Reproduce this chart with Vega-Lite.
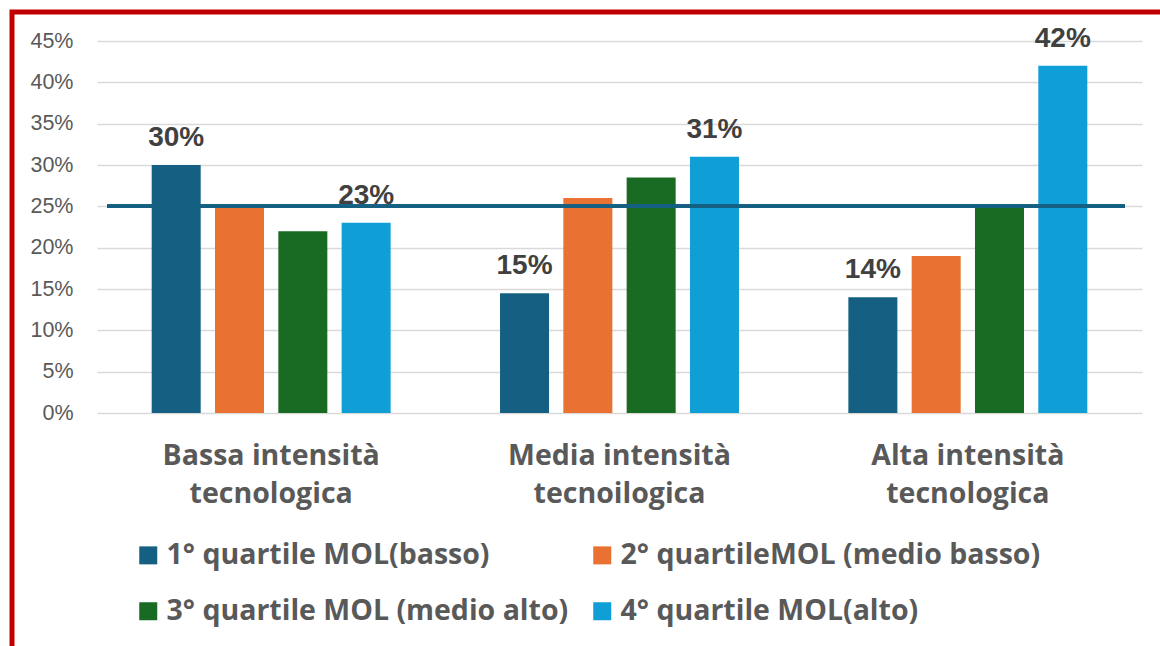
{
  "$schema": "https://vega.github.io/schema/vega-lite/v6.json",
  "width": 1148,
  "height": 634,
  "autosize": {"type": "none"},
  "padding": {"left": 12, "top": 12, "right": 0, "bottom": 0},
  "background": "white",
  "config": {
    "view": {"stroke": "#C00000", "strokeWidth": 5, "strokeDash": [1148, 1782, 634]}
  },
  "data": {
    "values": [
      {"categoria": "Bassa intensità tecnologica", "quartile": "1° quartile MOL(basso)", "valore": 0.30, "etichetta": "30%"},
      {"categoria": "Bassa intensità tecnologica", "quartile": "2° quartileMOL (medio basso)", "valore": 0.25, "etichetta": ""},
      {"categoria": "Bassa intensità tecnologica", "quartile": "3° quartile MOL (medio alto)", "valore": 0.22, "etichetta": ""},
      {"categoria": "Bassa intensità tecnologica", "quartile": "4° quartile MOL(alto)", "valore": 0.23, "etichetta": "23%"},
      {"categoria": "Media intensità tecnoilogica", "quartile": "1° quartile MOL(basso)", "valore": 0.145, "etichetta": "15%"},
      {"categoria": "Media intensità tecnoilogica", "quartile": "2° quartileMOL (medio basso)", "valore": 0.26, "etichetta": ""},
      {"categoria": "Media intensità tecnoilogica", "quartile": "3° quartile MOL (medio alto)", "valore": 0.285, "etichetta": ""},
      {"categoria": "Media intensità tecnoilogica", "quartile": "4° quartile MOL(alto)", "valore": 0.31, "etichetta": "31%"},
      {"categoria": "Alta intensità tecnologica", "quartile": "1° quartile MOL(basso)", "valore": 0.14, "etichetta": "14%"},
      {"categoria": "Alta intensità tecnologica", "quartile": "2° quartileMOL (medio basso)", "valore": 0.19, "etichetta": ""},
      {"categoria": "Alta intensità tecnologica", "quartile": "3° quartile MOL (medio alto)", "valore": 0.25, "etichetta": ""},
      {"categoria": "Alta intensità tecnologica", "quartile": "4° quartile MOL(alto)", "valore": 0.42, "etichetta": "42%"}
    ]
  },
  "layer": [
    {
      "encoding": {
        "x": {
          "field": "categoria",
          "type": "nominal",
          "scale": {
            "domain": ["Bassa intensità tecnologica", "Media intensità tecnoilogica", "Alta intensità tecnologica"],
            "range": [85, 1130],
            "paddingInner": 0.314,
            "paddingOuter": 0.157
          },
          "axis": {
            "title": null,
            "orient": "bottom",
            "offset": -233,
            "labelAngle": 0,
            "domain": false,
            "ticks": false,
            "tickSize": 0,
            "labelPadding": 28,
            "labelFont": "Open Sans",
            "labelFontSize": 28.5,
            "labelFontWeight": "bold",
            "labelColor": "#595959",
            "labelLineHeight": 38,
            "labelLimit": 0,
            "labelExpr": "[split(datum.label, ' ')[0] + ' ' + split(datum.label, ' ')[1], split(datum.label, ' ')[2]]"
          }
        },
        "xOffset": {
          "field": "quartile",
          "type": "nominal",
          "scale": {
            "domain": ["1° quartile MOL(basso)", "2° quartileMOL (medio basso)", "3° quartile MOL (medio alto)", "4° quartile MOL(alto)"],
            "paddingInner": 0.226,
            "paddingOuter": 0
          }
        },
        "y": {
          "field": "valore",
          "type": "quantitative",
          "scale": {"domain": [0, 0.45], "range": [401, 29], "nice": false, "zero": true},
          "axis": {
            "title": null,
            "orient": "left",
            "offset": -85,
            "format": ".0%",
            "values": [0, 0.05, 0.1, 0.15, 0.2, 0.25, 0.3, 0.35, 0.4, 0.45],
            "domain": false,
            "ticks": false,
            "tickSize": 0,
            "labelPadding": 24,
            "labelFont": "Liberation Sans",
            "labelFontSize": 21.5,
            "labelColor": "#595959",
            "grid": true,
            "gridColor": "#D9D9D9",
            "gridWidth": 1.5
          }
        }
      },
      "layer": [
        {
          "mark": {"type": "bar"},
          "encoding": {
            "color": {
              "field": "quartile",
              "type": "nominal",
              "scale": {
                "domain": ["1° quartile MOL(basso)", "2° quartileMOL (medio basso)", "3° quartile MOL (medio alto)", "4° quartile MOL(alto)"],
                "range": ["#156082", "#E97132", "#196B24", "#0F9ED5"]
              },
              "legend": {
                "title": null,
                "orient": "none",
                "legendX": 122,
                "legendY": 529,
                "direction": "horizontal",
                "columns": 2,
                "columnPadding": 19,
                "rowPadding": 27,
                "padding": 0,
                "symbolType": "square",
                "symbolSize": 324,
                "symbolStrokeWidth": 0,
                "symbolOpacity": 1,
                "labelOffset": 4,
                "labelFont": "Open Sans",
                "labelFontSize": 28.5,
                "labelFontWeight": "bold",
                "labelColor": "#595959",
                "labelLimit": 0
              }
            }
          }
        },
        {
          "transform": [{"filter": "datum.etichetta != ''"}],
          "mark": {
            "type": "text",
            "baseline": "alphabetic",
            "dy": -19,
            "font": "Liberation Sans",
            "fontSize": 28,
            "fontWeight": "bold",
            "color": "#404040"
          },
          "encoding": {
            "text": {"field": "etichetta"}
          }
        }
      ]
    },
    {
      "mark": {"type": "rule", "color": "#156082", "strokeWidth": 3},
      "encoding": {
        "x": {"datum": 0.0096, "type": "quantitative", "scale": {"domain": [0, 1], "range": [85, 1130]}, "axis": null},
        "x2": {"datum": 0.9837},
        "y": {"datum": 0.25, "type": "quantitative"}
      }
    }
  ],
  "resolve": {"scale": {"x": "independent"}, "axis": {"x": "independent"}}
}
